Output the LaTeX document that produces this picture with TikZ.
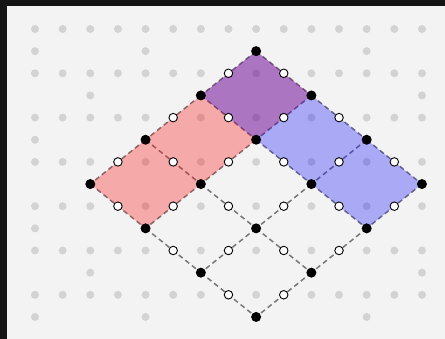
\documentclass[tikz,border=0pt]{standalone}
\usetikzlibrary{calc}
\definecolor{frameDark}{HTML}{141414}
\definecolor{paperBg}{HTML}{F3F3F3}
\definecolor{dotGray}{HTML}{D3D3D3}
\definecolor{edgeGray}{HTML}{777777}
\tikzset{
  lattice/.style={fill=dotGray},
  edge/.style={draw=edgeGray, line width=1.5pt, dash pattern=on 5pt off 3.5pt},
  region/.style={fill=#1, fill opacity=0.3},
  vtx/.style={circle, fill=black, inner sep=0pt, minimum size=10pt},
  mid/.style={circle, draw=black, fill=white, line width=0.9pt,
    inner sep=0pt, minimum size=8.5pt}
}
\begin{document}
\begin{tikzpicture}[x=27.64pt,y=-22.15pt]
  \fill[frameDark] (-35pt,29pt) rectangle (410pt,-310pt);
  \fill[paperBg] (-28pt,23pt) rectangle (410pt,-310pt);
  % grey lattice
  \foreach \r in {0,2,...,12}{
    \foreach \c in {0,...,14}{\fill[lattice] (\c,\r) circle (4pt);}
  }
  \foreach \r in {1,5,9,13}{
    \foreach \c in {0,4,8,12}{\fill[lattice] (\c,\r) circle (4pt);}
  }
  \foreach \r in {3,7,11}{
    \foreach \c in {2,6,10,14}{\fill[lattice] (\c,\r) circle (4pt);}
  }
  % rhombus grid
  \foreach \i in {0,...,3}{
    \foreach \j in {0,...,3}{
      \coordinate (v\i\j) at ({8-2*\i+2*\j},{1+2*\i+2*\j});
    }
  }
  \foreach \i in {0,...,3}{
    \foreach \j [count=\k] in {0,1,2}{
      \draw[edge] (v\i\j) -- (v\i\k);
      \draw[edge] (v\j\i) -- (v\k\i);
    }
  }
  \fill[region=red] (v00) -- (v01) -- (v31) -- (v30) -- cycle;
  \fill[region=blue] (v00) -- (v03) -- (v13) -- (v10) -- cycle;
  \foreach \i in {0,...,3}{
    \foreach \j [count=\k] in {0,1,2}{
      \node[mid] (a\i\j) at ($(v\i\j)!0.5!(v\i\k)$) {};
      \node[mid] (b\j\i) at ($(v\j\i)!0.5!(v\k\i)$) {};
    }
  }
  \foreach \i in {0,...,3}{
    \foreach \j in {0,...,3}{\node[vtx] (p\i\j) at (v\i\j) {};}
  }
\end{tikzpicture}
\end{document}
